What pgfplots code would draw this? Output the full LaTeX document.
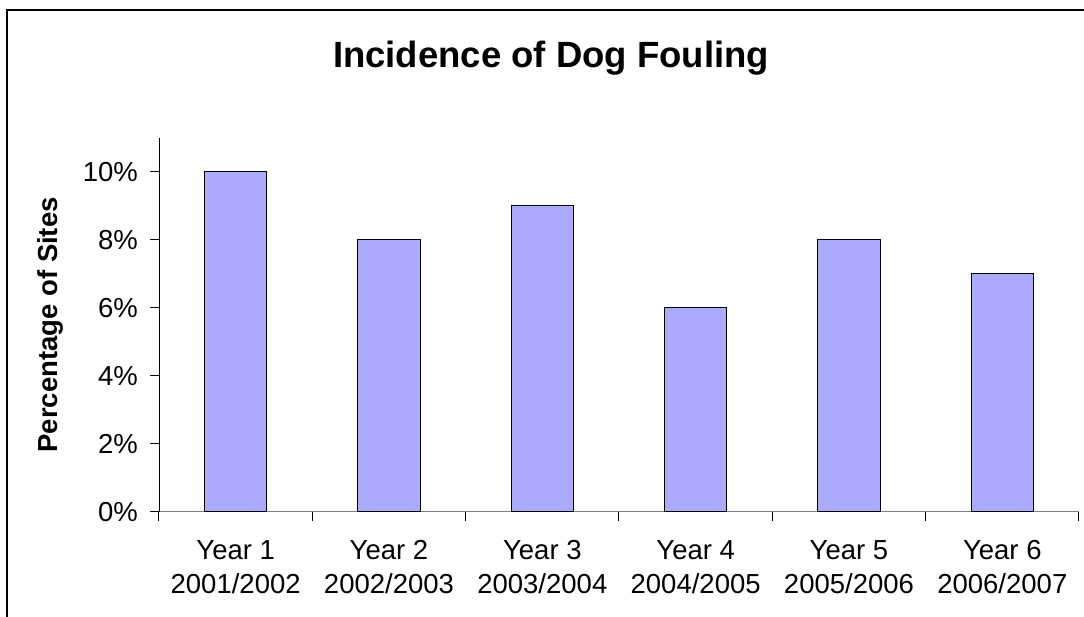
\documentclass[border=0pt]{standalone}
\usepackage{fontspec}
\setmainfont{Liberation Sans}
\usepackage{pgfplots}
\pgfplotsset{compat=1.18}
\definecolor{barblue}{RGB}{170,170,255}
\definecolor{axisgray}{RGB}{128,128,128}

\begin{document}
\begin{tikzpicture}
% page = 1084 x 617 px, 1px = 0.5pt, axis origin at (159,511.7)px
\useasboundingbox (-79.5pt,-52.65pt) rectangle (462.5pt,255.85pt);
\draw[line width=1pt] (-76pt,-60pt) -- (-76pt,250.6pt) -- (470pt,250.6pt);
\node[font=\fontsize{18.25}{22}\selectfont\bfseries] at (196pt,226.8pt) {Incidence of Dog Fouling};
\begin{axis}[
    at={(0pt,0pt)}, anchor=south west,
    scale only axis,
    width=460pt, height=186.85pt,
    ybar, bar width=0.406,
    xmin=-0.5, xmax=5.5,
    ymin=0, ymax=11,
    axis lines=left,
    axis line style={-},
    x axis line style={draw=axisgray},
    y axis line style={draw=black},
    tick align=outside,
    major tick length=4.5pt,
    minor tick length=4.5pt,
    xtick={0,...,5},
    xticklabels={{Year 1\\2001/2002},{Year 2\\2002/2003},{Year 3\\2003/2004},
                 {Year 4\\2004/2005},{Year 5\\2005/2006},{Year 6\\2006/2007}},
    major x tick style={draw=none},
    minor xtick={-0.5,0.5,...,5.5},
    minor x tick style={draw=black, line width=0.5pt},
    ytick={0,2,...,10},
    y tick style={draw=black, line width=0.5pt},
    yticklabel={\pgfmathprintnumber{\tick}\%},
    /pgf/number format/assume math mode=true,
    ticklabel style={font=\fontsize{13.75}{17}\selectfont},
    xticklabel style={align=center, yshift=-6.5pt},
    yticklabel style={xshift=-2.5pt},
    ylabel={Percentage of Sites},
    ylabel style={at={(axis description cs:-0.1185,0.5)}, anchor=center,
                  font=\fontsize{13.75}{16}\selectfont\bfseries},
]
\addplot[fill=barblue, draw=black, line width=0.5pt]
    coordinates {(0,10) (1,8) (2,9) (3,6) (4,8) (5,7)};
\end{axis}
\end{tikzpicture}
\end{document}
